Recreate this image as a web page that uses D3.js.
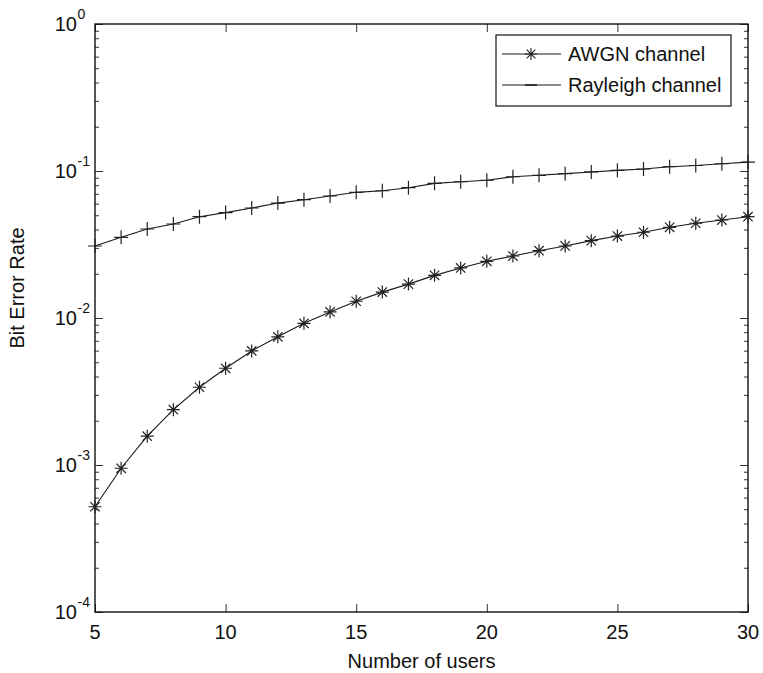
<!DOCTYPE html>
<html>
<head>
<meta charset="utf-8">
<script src="https://d3js.org/d3.v7.min.js"></script>
<style>
  html, body { margin: 0; padding: 0; background: #fff; }
  svg { display: block; font-family: "Liberation Sans", Arial, Helvetica, sans-serif; }
</style>
</head>
<body>
<svg id="chart" width="763" height="673"></svg>
<script>
// Number of users on the x axis
const users = [5, 6, 7, 8, 9, 10, 11, 12, 13, 14, 15, 16, 17, 18, 19, 20, 21, 22, 23, 24, 25, 26, 27, 28, 29, 30];

// Bit error rate per channel model
const awgnBER = [0.00052, 0.00095, 0.00157, 0.00238, 0.00338, 0.00455, 0.00597, 0.00745, 0.0092, 0.0110,
                 0.0130, 0.0150, 0.0170, 0.0195, 0.0219, 0.0243, 0.0264, 0.0287, 0.0309, 0.0336,
                 0.0361, 0.0383, 0.0414, 0.0441, 0.0464, 0.0489];
const rayleighBER = [0.0309, 0.0354, 0.0403, 0.0436, 0.0489, 0.0521, 0.0560, 0.0605, 0.0638, 0.0676,
                     0.0716, 0.0734, 0.0770, 0.0824, 0.0845, 0.0865, 0.0914, 0.0935, 0.0959, 0.0985,
                     0.1010, 0.1032, 0.1070, 0.1090, 0.1120, 0.1150];

const xTicks = [5, 10, 15, 20, 25, 30];
const yExponents = [0, -1, -2, -3, -4];
const seriesNames = ["AWGN channel", "Rayleigh channel"];
const xLabel = "Number of users";
const yLabel = "Bit Error Rate";

(function draw() {
  const svg = d3.select("#chart");
  const plotL = 95, plotR = 748, plotT = 24, plotB = 612;

  const x = d3.scaleLinear().domain([5, 30]).range([plotL, plotR]);
  const y = d3.scaleLog().domain([1e-4, 1]).range([plotB, plotT]);

  const ink = "#111";
  const majorLen = 8, minorLen = 4;

  // Minor decade ticks (2..9 within each decade)
  const minorVals = [];
  for (let e = -4; e < 0; e++) {
    for (let m = 2; m <= 9; m++) minorVals.push(m * Math.pow(10, e));
  }

  // Inward ticks on all four sides via d3 axes with negative tick sizes
  const axisG = svg.append("g");

  axisG.append("g").attr("transform", `translate(0,${plotB})`)
    .call(d3.axisBottom(x).tickValues(xTicks).tickSize(-majorLen).tickFormat(""));
  axisG.append("g").attr("transform", `translate(0,${plotT})`)
    .call(d3.axisTop(x).tickValues(xTicks).tickSize(-majorLen).tickFormat(""));

  const yMajorVals = yExponents.map(e => Math.pow(10, e));
  axisG.append("g").attr("transform", `translate(${plotL},0)`)
    .call(d3.axisLeft(y).tickValues(yMajorVals).tickSize(-majorLen).tickFormat(""));
  axisG.append("g").attr("transform", `translate(${plotR},0)`)
    .call(d3.axisRight(y).tickValues(yMajorVals).tickSize(-majorLen).tickFormat(""));
  axisG.append("g").attr("transform", `translate(${plotL},0)`)
    .call(d3.axisLeft(y).tickValues(minorVals).tickSize(-minorLen).tickFormat(""));
  axisG.append("g").attr("transform", `translate(${plotR},0)`)
    .call(d3.axisRight(y).tickValues(minorVals).tickSize(-minorLen).tickFormat(""));

  axisG.selectAll(".domain").remove();
  axisG.selectAll(".tick line").attr("stroke", "#333").attr("stroke-width", 1);

  // Plot frame
  svg.append("rect")
    .attr("x", plotL).attr("y", plotT)
    .attr("width", plotR - plotL).attr("height", plotB - plotT)
    .attr("fill", "none").attr("stroke", "#111").attr("stroke-width", 1.4);

  // X tick labels
  svg.append("g").selectAll("text").data(xTicks).join("text")
    .attr("x", d => x(d)).attr("y", plotB + 27)
    .attr("text-anchor", "middle").attr("font-size", 20).attr("fill", ink)
    .text(d => d);

  // Y tick labels as 10 with a superscript exponent
  const yl = svg.append("g").selectAll("g").data(yExponents).join("g")
    .attr("transform", d => `translate(0,${y(Math.pow(10, d))})`);
  yl.append("text").attr("x", 77).attr("y", 7)
    .attr("text-anchor", "end").attr("font-size", 20).attr("fill", ink).text("10");
  yl.append("text").attr("x", 77.5).attr("y", -5)
    .attr("text-anchor", "start").attr("font-size", 14).attr("fill", ink).text(d => d);

  // Axis titles
  svg.append("text").attr("x", (plotL + plotR) / 2).attr("y", 668)
    .attr("text-anchor", "middle").attr("font-size", 20).attr("fill", ink).text(xLabel);
  svg.append("text")
    .attr("transform", "translate(24,288) rotate(-90)")
    .attr("text-anchor", "middle").attr("font-size", 20).attr("fill", ink).text(yLabel);

  // Marker shapes
  function starPath(s) {
    const d = s * 0.72;
    return `M${-s},0L${s},0M0,${-s}L0,${s}M${-d},${-d}L${d},${d}M${-d},${d}L${d},${-d}`;
  }
  function plusPath(s) {
    return `M${-s},0L${s},0M0,${-s}L0,${s}`;
  }

  const line = d3.line().x(d => x(d[0])).y(d => y(d[1]));
  const awgnPts = users.map((u, i) => [u, awgnBER[i]]);
  const rayPts = users.map((u, i) => [u, rayleighBER[i]]);

  const plot = svg.append("g");
  [awgnPts, rayPts].forEach(pts => {
    plot.append("path").datum(pts).attr("d", line)
      .attr("fill", "none").attr("stroke", "#1a1a1a").attr("stroke-width", 1.1);
  });
  plot.append("g").selectAll("path").data(awgnPts).join("path")
    .attr("transform", d => `translate(${x(d[0])},${y(d[1])})`)
    .attr("d", starPath(6.5)).attr("fill", "none").attr("stroke", "#222").attr("stroke-width", 1.2);
  plot.append("g").selectAll("path").data(rayPts).join("path")
    .attr("transform", d => `translate(${x(d[0])},${y(d[1])})`)
    .attr("d", plusPath(7)).attr("fill", "none").attr("stroke", "#222").attr("stroke-width", 1.2);

  // Legend
  const lg = svg.append("g");
  lg.append("rect").attr("x", 496).attr("y", 35).attr("width", 235).attr("height", 71)
    .attr("fill", "#fff").attr("stroke", "#111").attr("stroke-width", 1.2);
  const rows = [54, 85];
  rows.forEach((ry, i) => {
    lg.append("line").attr("x1", 502).attr("x2", 561).attr("y1", ry).attr("y2", ry)
      .attr("stroke", "#1a1a1a").attr("stroke-width", 1.1);
    lg.append("text").attr("x", 568).attr("y", ry + 7)
      .attr("font-size", 20).attr("fill", ink).text(seriesNames[i]);
  });
  lg.append("path").attr("transform", `translate(531,${rows[0]})`)
    .attr("d", starPath(6)).attr("fill", "none").attr("stroke", "#222").attr("stroke-width", 1.1);
  lg.append("path").attr("transform", `translate(531,${rows[1]})`)
    .attr("d", "M-6,0L6,0").attr("fill", "none").attr("stroke", "#222").attr("stroke-width", 1.6);
})();
</script>
</body>
</html>
